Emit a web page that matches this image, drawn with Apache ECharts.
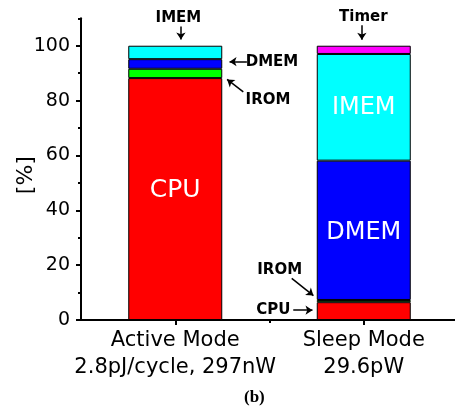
<!DOCTYPE html>
<html>
<head>
<meta charset="utf-8">
<script src="https://cdn.jsdelivr.net/npm/echarts@6/dist/echarts.min.js"></script>
<style>
html,body{margin:0;padding:0;background:#fff;}
#c{width:455px;height:411px;}
</style>
</head>
<body>
<div id="c"></div>
<script>
// ---- data ----
const categories = ['Active Mode\n2.8pJ/cycle, 297nW', 'Sleep Mode\n29.6pW'];
const cpu   = [88.2, 6.5];
const irom  = [3.4, 0.8];
const dmem  = [3.5, 50.8];
const imem  = [4.9, 38.9];
const timer = ['-', 3.0];
const yTicks = [0, 20, 40, 60, 80, 100];
const yMinorTicks = [10, 30, 50, 70, 90, 110];

const FONT = 'DejaVu Sans';
const chart = echarts.init(document.getElementById('c'), null, {renderer: 'canvas'});

function pts(arr, labelCfg) {
  return arr.map((v, i) => {
    if (labelCfg && labelCfg[i]) return {value: v, label: labelCfg[i]};
    return v;
  });
}
const inLabel = (extra) => Object.assign({show: true, position: 'inside', color: '#fff', fontFamily: FONT, fontSize: 24, formatter: '{a}'}, extra || {});

const border = {borderColor: '#000', borderWidth: 1};
function barSeries(name, arr, color, labels) {
  return {
    name: name, type: 'bar', stack: 'total', barWidth: 94,
    xAxisIndex: 0, yAxisIndex: 0,
    itemStyle: Object.assign({color: color}, border),
    label: {show: false},
    data: pts(arr, labels),
    silent: true
  };
}

// annotations (x in units where category i sits at i+1; y in %)
const annText = [
  {name: 'IMEM',  coord: [1.017, 107.0], pos: 'top'},
  {name: 'DMEM',  coord: [1.513, 94.2], pos: 'inside'},
  {name: 'IROM',  coord: [1.492, 80.2], pos: 'inside'},
  {name: 'Timer', coord: [1.998, 107.5], pos: 'top'},
  {name: 'IROM',  coord: [1.554, 18.1], pos: 'inside'},
  {name: 'CPU',   coord: [1.520, 3.5], pos: 'inside'}
];
const annArrows = [
  [[1.03, 107.0], [1.03, 102.3]],
  [[1.38, 94.2], [1.288, 94.2]],
  [[1.361, 83.2], [1.275, 87.7]],
  [[1.99, 107.5], [1.99, 102.2]],
  [[1.618, 15.2], [1.733, 8.9]],
  [[1.626, 3.6], [1.728, 3.6]]
];

const option = {
  animation: false,
  backgroundColor: '#fff',
  grid: {left: 81, right: -3, top: 18.3, bottom: 91, containLabel: false, outerBoundsMode: 'none'},
  xAxis: [{
    type: 'category', data: categories, boundaryGap: true,
    axisLine: {show: true, onZero: false, lineStyle: {color: '#000', width: 2}},
    axisTick: {show: true, alignWithLabel: true, length: 5, lineStyle: {color: '#000', width: 2}},
    axisLabel: {
      show: true, margin: 7, interval: 0,
      color: '#000', fontFamily: FONT, fontSize: 21, lineHeight: 27, align: 'center'
    },
    splitLine: {show: false}
  }, {
    type: 'value', min: 0.5, max: 2.5, interval: 0.5, position: 'bottom',
    axisLine: {show: false},
    axisTick: {show: true, customValues: [1.5], length: 3, lineStyle: {color: '#000', width: 2}},
    axisLabel: {show: false},
    splitLine: {show: false}
  }],
  yAxis: [{
    type: 'value', min: 0, max: 110, interval: 10,
    axisLine: {show: true, lineStyle: {color: '#000', width: 2}},
    axisTick: {show: true, customValues: yTicks, length: 5, lineStyle: {color: '#000', width: 2}},
    axisLabel: {show: true, customValues: yTicks, margin: 11, color: '#000', fontFamily: FONT, fontSize: 19},
    splitLine: {show: false},
    name: '[%]', nameLocation: 'middle', nameGap: 44, nameRotate: 90, nameMoveOverlap: false,
    nameTextStyle: {color: '#000', fontFamily: FONT, fontSize: 22, padding: [0, 12, 0, 0]}
  }, {
    type: 'value', min: 0, max: 110, interval: 10, position: 'left',
    axisLine: {show: false},
    axisTick: {show: true, customValues: yMinorTicks, length: 3, lineStyle: {color: '#000', width: 2}},
    axisLabel: {show: false},
    splitLine: {show: false}
  }],
  series: [
    barSeries('CPU', cpu, '#ff0000', [inLabel({fontSize: 25, offset: [0, -9]}), null]),
    barSeries('IROM', irom, '#00ff00'),
    barSeries('DMEM', dmem, '#0000ff', [null, inLabel({offset: [0, 2]})]),
    barSeries('IMEM', imem, '#00ffff', [null, inLabel()]),
    barSeries('Timer', timer, '#ff00ff'),
    {
      type: 'scatter', xAxisIndex: 1, yAxisIndex: 0, data: [], silent: true,
      markPoint: {
        symbol: 'circle', symbolSize: 0, silent: true,
        label: {show: true, position: 'inside', distance: 1, formatter: '{b}', color: '#000', fontFamily: FONT, fontWeight: 'bold', fontSize: 15},
        data: annText.map(a => ({name: a.name, coord: a.coord, label: {position: a.pos}}))
      },
      markLine: {
        silent: true, symbol: ['none', 'arrow'], symbolSize: 7,
        label: {show: false},
        lineStyle: {color: '#000', width: 1.5, type: 'solid'},
        emphasis: {disabled: true},
        data: annArrows.map(p => [{coord: p[0]}, {coord: p[1]}])
      }
    }
  ],
  graphic: [{
    type: 'text', left: 244, top: 389,
    style: {text: '(b)', fill: '#000', font: 'bold 17px "Liberation Serif"'}
  }]
};
chart.setOption(option);
</script>
</body>
</html>
